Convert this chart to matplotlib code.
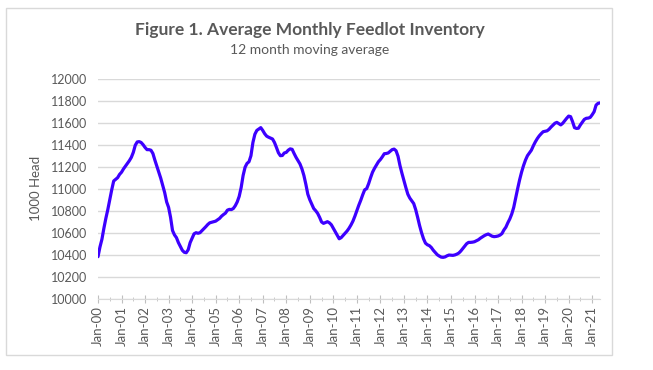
import matplotlib.pyplot as plt
from matplotlib.patches import Rectangle
from matplotlib.ticker import FixedLocator, MultipleLocator

# 12 month moving average of feedlot inventory, 1000 head, monthly from Jan-00
start_month = '2000-01'
inventory = [
    10382, 10470, 10540, 10640, 10730, 10810, 10900, 10990, 11070, 11085, 11100, 11130,  # 2000
    11150, 11180, 11205, 11230, 11255, 11285, 11330, 11395, 11425, 11428, 11420, 11400,  # 2001
    11375, 11355, 11355, 11350, 11320, 11260, 11205, 11150, 11095, 11030, 10965, 10880,  # 2002
    10830, 10740, 10620, 10580, 10555, 10510, 10475, 10440, 10422, 10418, 10445, 10510,  # 2003
    10550, 10590, 10600, 10595, 10600, 10618, 10635, 10655, 10675, 10690, 10695, 10700,  # 2004
    10705, 10718, 10730, 10750, 10765, 10778, 10805, 10812, 10810, 10820, 10845, 10880,  # 2005
    10930, 11010, 11120, 11195, 11230, 11245, 11300, 11420, 11495, 11530, 11542, 11555,  # 2006
    11530, 11500, 11478, 11468, 11460, 11452, 11420, 11375, 11327, 11300, 11302, 11325,  # 2007
    11330, 11350, 11362, 11358, 11320, 11285, 11255, 11225, 11180, 11120, 11040, 10950,  # 2008
    10900, 10860, 10820, 10800, 10776, 10740, 10698, 10685, 10692, 10700, 10690, 10672,  # 2009
    10640, 10610, 10575, 10545, 10555, 10575, 10595, 10615, 10640, 10670, 10705, 10750,  # 2010
    10800, 10850, 10895, 10945, 10990, 11000, 11045, 11100, 11150, 11185, 11215, 11245,  # 2011
    11265, 11290, 11318, 11320, 11325, 11340, 11355, 11360, 11345, 11295, 11210, 11140,  # 2012
    11075, 11010, 10950, 10915, 10890, 10865, 10810, 10740, 10665, 10600, 10545, 10505,  # 2013
    10490, 10482, 10465, 10440, 10420, 10400, 10388, 10378, 10376, 10380, 10390, 10397,  # 2014
    10395, 10394, 10398, 10405, 10415, 10433, 10455, 10478, 10500, 10512, 10512, 10514,  # 2015
    10518, 10527, 10536, 10550, 10562, 10573, 10582, 10588, 10578, 10568, 10564, 10566,  # 2016
    10570, 10578, 10592, 10625, 10650, 10690, 10725, 10770, 10830, 10915, 11000, 11080,  # 2017
    11150, 11210, 11260, 11300, 11325, 11350, 11390, 11425, 11455, 11480, 11500, 11518,  # 2018
    11522, 11526, 11540, 11560, 11578, 11595, 11603, 11592, 11580, 11595, 11618, 11640,  # 2019
    11660, 11655, 11610, 11555, 11548, 11550, 11580, 11605, 11630, 11640, 11642, 11648,  # 2020
    11672, 11700, 11760, 11776, 11780,                                                   # 2021
]
year_labels = ['Jan-00', 'Jan-01', 'Jan-02', 'Jan-03', 'Jan-04', 'Jan-05', 'Jan-06',
               'Jan-07', 'Jan-08', 'Jan-09', 'Jan-10', 'Jan-11', 'Jan-12', 'Jan-13',
               'Jan-14', 'Jan-15', 'Jan-16', 'Jan-17', 'Jan-18', 'Jan-19', 'Jan-20',
               'Jan-21']

plt.rcParams['font.family'] = ['Lato', 'DejaVu Sans']
grey = '#595959'

fig = plt.figure(figsize=(6.53, 3.7), dpi=100)
fig.patches.append(Rectangle((6 / 653, 1 - 355 / 370), 606 / 653, 347 / 370,
                             transform=fig.transFigure, fill=False,
                             edgecolor='#d9d9d9', linewidth=1))
ax = fig.add_axes([98 / 653, 71.3 / 370, 502 / 653, 220 / 370])

months = list(range(len(inventory)))
ax.plot(months, inventory, color='#3d00ff', linewidth=2.3, solid_capstyle='round')

ax.set_xlim(0, len(inventory) - 1)
ax.set_ylim(10000, 12000)
ax.yaxis.set_major_locator(MultipleLocator(200))
ax.grid(axis='y', color='#d9d9d9', linewidth=1)
ax.set_axisbelow(True)

ax.xaxis.set_major_locator(FixedLocator(range(0, len(inventory), 12)))
ax.xaxis.set_minor_locator(FixedLocator(range(6, len(inventory), 12)))
ax.set_xticklabels(year_labels, rotation=90)
ax.tick_params(axis='x', which='major', direction='inout', length=6, color='#bfbfbf',
               labelsize=9.5, labelcolor=grey, pad=2)
ax.tick_params(axis='x', which='minor', direction='inout', length=3, color='#bfbfbf')
ax.tick_params(axis='y', length=0, labelsize=9, labelcolor=grey, pad=8)

for side in ['top', 'right', 'left']:
    ax.spines[side].set_visible(False)
ax.spines['bottom'].set_color('#d9d9d9')

ax.set_ylabel('1000 Head', fontsize=9.5, color=grey, labelpad=6)

fig.text(310 / 653, 1 - 30 / 370, 'Figure 1. Average Monthly Feedlot Inventory',
         ha='center', va='center', fontsize=12.5, fontweight='bold', color=grey)
fig.text(310 / 653, 1 - 50 / 370, '12 month moving average',
         ha='center', va='center', fontsize=10, color=grey)

fig.savefig('out.png', dpi=100)
